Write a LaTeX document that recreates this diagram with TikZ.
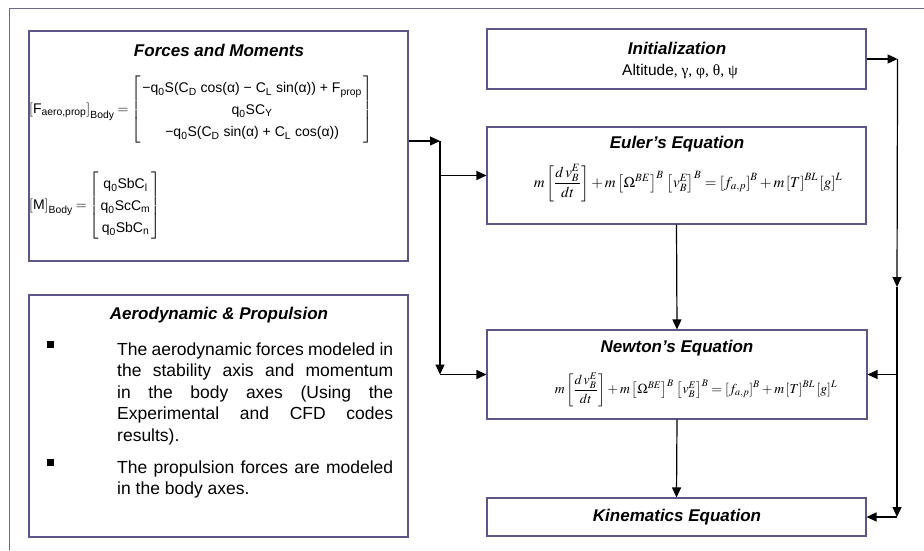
\documentclass[tikz,border=0pt]{standalone}
\usepackage{amsmath}
\usepackage{mathptmx}
\usepackage[no-math]{fontspec}
\setmainfont{Liberation Sans}
\newfontfamily\serifgr{Liberation Serif}
\usetikzlibrary{arrows.meta,positioning,calc}
\definecolor{boxcol}{RGB}{95,85,135}
\definecolor{framecol}{RGB}{110,105,140}
\newcommand{\subtxt}[1]{_{\text{#1}}}
\hyphenpenalty=10000
\exhyphenpenalty=10000
\tolerance=9000

\begin{document}
\begin{tikzpicture}[x=1pt, y=-1pt, >={Triangle[length=10pt,width=9pt]},
  blk/.style={draw=boxcol, line width=1.1pt, inner sep=0pt},
  ttl/.style={font=\fontsize{17}{20}\selectfont\bfseries\itshape},
  txt/.style={font=\fontsize{17.5}{21.5}\selectfont},
  feqn/.style={font=\fontsize{14}{22}\selectfont, inner sep=0pt},
  eqn/.style={font=\fontsize{15}{18}\selectfont, inner sep=0pt},
  arr/.style={->, line width=1.2pt}]
\useasboundingbox (0,0) rectangle (924,550);
\draw[framecol, line width=1pt] (9,550) -- (9,8) -- (924,8);

% left blocks
\node[blk, minimum width=379pt, minimum height=230pt] (forces) at (218.5,146) {};
\node[ttl] (forcesttl) at (219,50) {Forces and Moments};
\node[feqn, anchor=west] (feq) at (29,110) {$\left[\text{F}\subtxt{aero,prop}\right]\subtxt{Body} = \left[\begin{array}{@{\,}c@{\,}}
  \text{−q}\subtxt{0}\text{S(C}\subtxt{D}\text{ cos(α) − C}\subtxt{L}\text{ sin(α)) + F}\subtxt{prop}\\
  \text{q}\subtxt{0}\text{SC}\subtxt{Y}\\
  \text{−q}\subtxt{0}\text{S(C}\subtxt{D}\text{ sin(α) + C}\subtxt{L}\text{ cos(α))}
  \end{array}\right]$};
\node[feqn, anchor=west] (meq) at (29,206) {$\left[\text{M}\right]\subtxt{Body} = \left[\begin{array}{@{\,}c@{\,}}
  \text{q}\subtxt{0}\text{SbC}\subtxt{l}\\
  \text{q}\subtxt{0}\text{ScC}\subtxt{m}\\
  \text{q}\subtxt{0}\text{SbC}\subtxt{n}
  \end{array}\right]$};

\node[blk, minimum width=379pt, minimum height=242pt] (aero) at (218.5,416) {};
\node[ttl] (aerottl) at (219,315) {Aerodynamic \& Propulsion};
\fill (46.5,340.5) rectangle (53.5,347.5);
\fill (46.5,458.5) rectangle (53.5,465.5);
\node[txt, text width=276pt, align=justify, inner sep=0pt, anchor=base west] (aerop1) at (117,355)
  {The aerodynamic forces modeled in the stability axis and momentum in the body axes (Using the Experimental and CFD codes results).};
\node[txt, text width=276pt, align=justify, inner sep=0pt, anchor=base west] (aerop2) at (117,473)
  {The propulsion forces are modeled in the body axes.};

% right blocks
\node[blk, minimum width=379pt, minimum height=60pt] (init) at (676.5,59) {};
\node[ttl] (initttl) at (677,48) {Initialization};
\node[font=\fontsize{15.5}{18}\selectfont] (inittxt) at (680,72) {Altitude{\serifgr, γ, φ, θ, ψ}};

\node[blk, minimum width=379pt, minimum height=97pt] (euler) at (676.5,175.5) {};
\node[ttl] (eulerttl) at (677,144) {Euler's Equation};
\node[eqn] (eulereq) at (688,183) {$m\left[\dfrac{d\,v_B^E}{dt}\right] + m\left[\Omega^{BE}\right]^B\,\left[v_B^E\right]^B = \left[f_{a,p}\right]^B + m\left[T\right]^{BL}\left[g\right]^L$};

\node[blk, minimum width=380pt, minimum height=89pt] (newton) at (677,374.5) {};
\node[ttl] (newtonttl) at (677,348) {Newton's Equation};
\node[eqn, font=\fontsize{13.7}{17}\selectfont] (newtoneq) at (696,390) {$m\left[\dfrac{d\,v_B^E}{dt}\right] + m\left[\Omega^{BE}\right]^B\,\left[v_B^E\right]^B = \left[f_{a,p}\right]^B + m\left[T\right]^{BL}\left[g\right]^L$};

\node[blk, minimum width=379pt, minimum height=38pt] (kin) at (676.5,517) {};
\node[ttl] (kinttl) at (677,517) {Kinematics Equation};

% connectors
\coordinate (busL) at (440,141);
\coordinate (busR) at ($(init.east)+(31,0)$);
\coordinate (midR) at (897,287);
\draw[arr] (forces.east |- busL) -- (busL);
\draw[arr] (busL) -- (busL |- newton.west);
\draw[arr] (busL |- euler.west) -- (euler.west);
\draw[arr] (busL |- newton.west) -- (newton.west);
\draw[arr] (euler.south) -- (newton.north);
\draw[arr] (newton.south) -- (kin.north);
\draw[arr] (init.east) -- (busR);
\draw[arr] (busR) -- (midR);
\draw[arr] (midR) -- (midR |- kin.east);
\draw[arr] (midR |- newton.east) -- (newton.east);
\draw[arr] (midR |- kin.east) -- (kin.east);
\end{tikzpicture}
\end{document}
